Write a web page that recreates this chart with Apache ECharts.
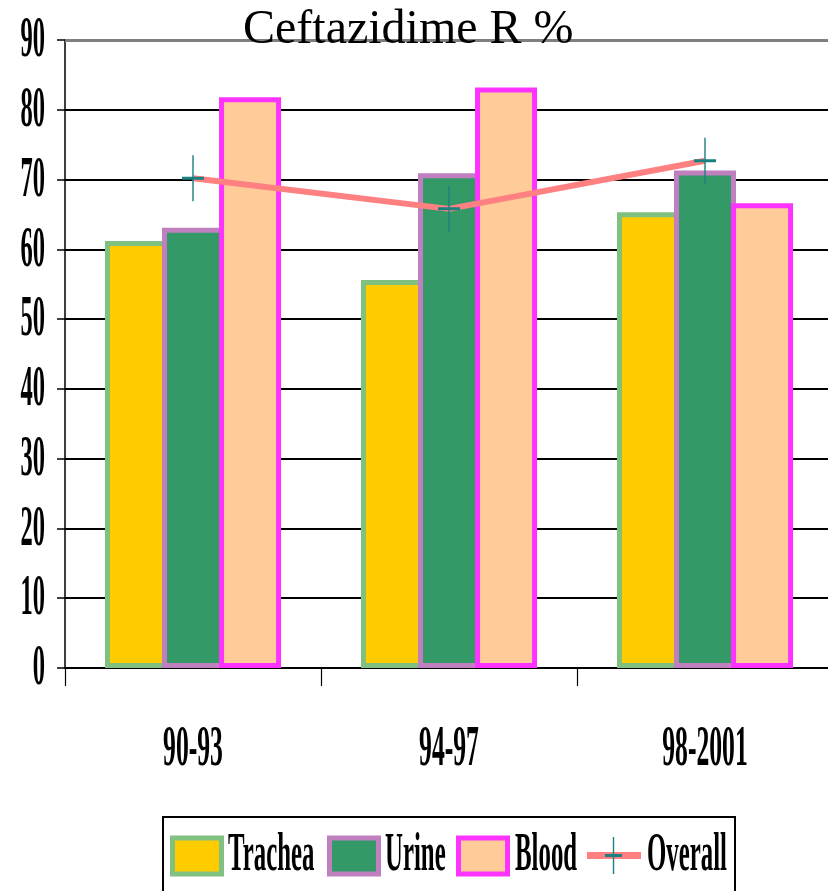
<!DOCTYPE html>
<html>
<head>
<meta charset="utf-8">
<script src="https://cdn.jsdelivr.net/npm/echarts@6/dist/echarts.min.js"></script>
<style>
  html, body { margin: 0; padding: 0; background: #fff; overflow: hidden; width: 828px; height: 891px; }
  /* plot area runs slightly past the right edge of the page */
  #chart { width: 840px; height: 891px; }
</style>
</head>
<body>
<div id="chart"></div>
<script>
// Ceftazidime resistance (%) by specimen source and period
const categories = ['90-93', '94-97', '98-2001'];
const trachea = [61.2, 55.6, 65.3];
const urine   = [63.1, 70.9, 71.3];
const blood   = [81.8, 83.2, 66.6];
const overall = [70.2, 65.8, 72.7];
const yTicks  = [0, 10, 20, 30, 40, 50, 60, 70, 80, 90];
const legendNames = ['Trachea', 'Urine', 'Blood', 'Overall'];

const SERIF = '"Liberation Serif", "Times New Roman", serif';
const LEGEND_FONT = 'bold 54px ' + SERIF;
const AXIS_FONT = 'bold 57px ' + SERIF;

const colors = {
  trachea: { fill: '#ffcc00', border: '#80c080' },
  urine:   { fill: '#339966', border: '#c080c0' },
  blood:   { fill: '#ffcc99', border: '#ff33ff' },
  line: '#ff8080',
  mark: '#1a8080'
};

// plus-shaped marker: thin vertical stroke, thicker horizontal stroke
const plusPath = 'path://M0 21.5H22V24.5H0Z M10.3 0H11.7V46H10.3Z';

function barSeries(name, data, c) {
  return {
    name: name, type: 'bar', data: data,
    barWidth: 62, barGap: '-8%',
    itemStyle: { color: c.fill, borderColor: c.border, borderWidth: 5 }
  };
}

const chart = echarts.init(document.getElementById('chart'), null, { renderer: 'canvas' });

chart.setOption({
  animation: false,
  backgroundColor: '#fff',
  title: {
    text: 'Ceftazidime R %',
    left: 238, top: 1,
    textStyle: { fontFamily: SERIF, fontSize: 48, fontWeight: 'normal', color: '#000' }
  },
  grid: { left: 65, width: 768, top: 40, bottom: 223 },
  xAxis: {
    type: 'category', data: categories,
    axisLine: { lineStyle: { color: '#000', width: 2 } },
    axisTick: { show: true, length: 18, lineStyle: { color: '#000', width: 1.2 } },
    axisLabel: { show: false },
    splitLine: { show: false }
  },
  yAxis: {
    type: 'value', min: 0, max: 90, interval: 10,
    axisLine: { show: true, lineStyle: { color: '#000', width: 1.5 } },
    axisTick: { show: true, length: 8, lineStyle: { color: '#000', width: 1.5 } },
    axisLabel: { show: false },
    splitLine: { show: true, lineStyle: { color: '#000', width: 2 } }
  },
  series: [
    barSeries('Trachea', trachea, colors.trachea),
    barSeries('Urine', urine, colors.urine),
    barSeries('Blood', blood, colors.blood),
    {
      name: 'Overall', type: 'line', data: overall,
      symbol: plusPath, symbolSize: [22, 46],
      itemStyle: { color: colors.mark },
      lineStyle: { color: colors.line, width: 6 },
      markLine: {
        silent: true, symbol: 'none', label: { show: false },
        lineStyle: { color: '#7f7f7f', width: 3, type: 'solid' },
        data: [{ yAxis: 90 }]
      }
    }
  ]
});

// tick labels and legend drawn as condensed text, positioned from the axes
function squeezedText(x, y, text, align, font, squeeze) {
  return {
    type: 'text', x: x, y: y, scaleX: squeeze, z: 10,
    style: { text: text, font: font, fill: '#000', align: align, verticalAlign: 'middle' }
  };
}

const graphics = [];
yTicks.forEach(function (v) {
  const py = chart.convertToPixel({ yAxisIndex: 0 }, v);
  graphics.push(squeezedText(45, py + 1.5, String(v), 'right', AXIS_FONT, 0.43));
});
categories.forEach(function (c) {
  const px = chart.convertToPixel({ xAxisIndex: 0 }, c);
  graphics.push(squeezedText(px, 750, c, 'center', AXIS_FONT, 0.45));
});

// legend box
const legendY = 856;
graphics.push({
  type: 'rect', z: 9,
  shape: { x: 163, y: 817, width: 572, height: 100 },
  style: { fill: '#fff', stroke: '#000', lineWidth: 2 }
});
const swatches = [
  { x: 172.5, c: colors.trachea, textX: 228 },
  { x: 329.5, c: colors.urine,   textX: 385 },
  { x: 458.5, c: colors.blood,   textX: 515 }
];
swatches.forEach(function (s, i) {
  graphics.push({
    type: 'rect', z: 10,
    shape: { x: s.x, y: 838, width: 49, height: 36 },
    style: { fill: s.c.fill, stroke: s.c.border, lineWidth: 5 }
  });
  graphics.push(squeezedText(s.textX, legendY, legendNames[i], 'left', LEGEND_FONT, 0.46));
});
graphics.push({
  type: 'line', z: 10,
  shape: { x1: 587, y1: 855.5, x2: 641, y2: 855.5 },
  style: { stroke: colors.line, lineWidth: 7 }
});
graphics.push({
  type: 'line', z: 11,
  shape: { x1: 613.5, y1: 837, x2: 613.5, y2: 874 },
  style: { stroke: colors.mark, lineWidth: 1.4 }
});
graphics.push({
  type: 'line', z: 11,
  shape: { x1: 605, y1: 855.5, x2: 622, y2: 855.5 },
  style: { stroke: colors.mark, lineWidth: 3 }
});
graphics.push(squeezedText(647, legendY, legendNames[3], 'left', LEGEND_FONT, 0.46));

chart.setOption({ graphic: graphics });
</script>
</body>
</html>
